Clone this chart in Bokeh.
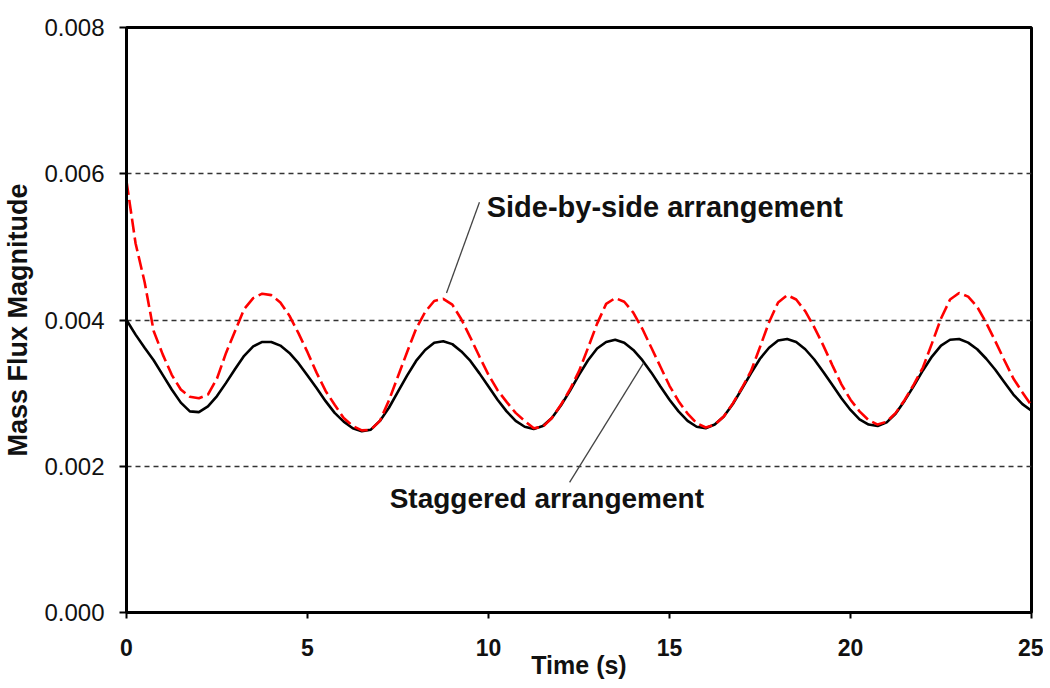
from bokeh.plotting import figure
from bokeh.models import Range1d, FixedTicker, PrintfTickFormatter, Label, ColumnDataSource
from bokeh.embed import file_html
from bokeh.resources import INLINE

# ---- data ----
time_s = [i * 0.25 for i in range(101)]

staggered = [
    0.00400, 0.00380, 0.00362, 0.00345, 0.00325, 0.00305, 0.00287, 0.00275,
    0.00274, 0.00282, 0.00296, 0.00314, 0.00333, 0.00351, 0.00364, 0.00370,
    0.00370, 0.00365, 0.00355, 0.00341, 0.00324, 0.00307, 0.00289, 0.00273,
    0.00261, 0.00252, 0.00248, 0.00250, 0.00262, 0.00280, 0.00302, 0.00324,
    0.00344, 0.00359, 0.00369, 0.00371, 0.00367, 0.00357, 0.00344, 0.00327,
    0.00309, 0.00291, 0.00275, 0.00262, 0.00254, 0.00251, 0.00255, 0.00266,
    0.00283, 0.00303, 0.00325, 0.00345, 0.00361, 0.00370, 0.00373, 0.00369,
    0.00359, 0.00345, 0.00328, 0.00309, 0.00291, 0.00275, 0.00262, 0.00254,
    0.00252, 0.00257, 0.00268, 0.00285, 0.00306, 0.00327, 0.00347, 0.00362,
    0.00372, 0.00374, 0.00370, 0.00360, 0.00346, 0.00329, 0.00311, 0.00293,
    0.00277, 0.00264, 0.00257, 0.00255, 0.00260, 0.00272, 0.00290, 0.00310,
    0.00331, 0.00350, 0.00365, 0.00373, 0.00374, 0.00369, 0.00360, 0.00347,
    0.00332, 0.00315, 0.00298, 0.00285, 0.00276,
]

side_by_side = [
    0.00590, 0.00505, 0.00452, 0.00385, 0.00353, 0.00325, 0.00305, 0.00295,
    0.00293, 0.00298, 0.00320, 0.00355, 0.00385, 0.00415, 0.00430, 0.00436,
    0.00434, 0.00424, 0.00406, 0.00382, 0.00356, 0.00328, 0.00303, 0.00284,
    0.00266, 0.00255, 0.00249, 0.00250, 0.00262, 0.00290, 0.00323, 0.00356,
    0.00388, 0.00411, 0.00426, 0.00429, 0.00421, 0.00401, 0.00376, 0.00350,
    0.00325, 0.00304, 0.00288, 0.00273, 0.00262, 0.00252, 0.00254, 0.00266,
    0.00284, 0.00305, 0.00330, 0.00362, 0.00395, 0.00422, 0.00430, 0.00425,
    0.00410, 0.00388, 0.00362, 0.00336, 0.00310, 0.00289, 0.00272, 0.00259,
    0.00253, 0.00257, 0.00268, 0.00286, 0.00307, 0.00330, 0.00363, 0.00397,
    0.00424, 0.00434, 0.00428, 0.00412, 0.00390, 0.00365, 0.00338, 0.00312,
    0.00291, 0.00275, 0.00263, 0.00257, 0.00261, 0.00273, 0.00291, 0.00312,
    0.00335, 0.00368, 0.00402, 0.00428, 0.00437, 0.00432, 0.00418, 0.00396,
    0.00371, 0.00345, 0.00320, 0.00301, 0.00283,
]

x_ticks = [0, 5, 10, 15, 20, 25]
y_ticks = [0.000, 0.002, 0.004, 0.006, 0.008]
grid_levels = [0.002, 0.004, 0.006]

series_names = ["Side-by-side arrangement", "Staggered arrangement"]
x_title = "Time (s)"
y_title = "Mass Flux Magnitude"

# annotation placement (data units)
side_label_pos = (9.95, 0.00555)
side_leader = (9.75, 0.00561, 8.84, 0.00437)
stag_label_pos = (7.27, 0.00156)
stag_leader = (12.24, 0.00178, 14.28, 0.00341)

FONT = "Liberation Sans"
TXT = "#111111"

p = figure(frame_width=905, frame_height=585,
           x_range=Range1d(0, 25), y_range=Range1d(0, 0.008),
           output_backend="svg", toolbar_location=None,
           min_border_left=120, min_border_right=12,
           min_border_top=27, min_border_bottom=68,
           background_fill_color="white", border_fill_color="white")

p.outline_line_color = "black"
p.outline_line_width = 3

# grid
p.xgrid.grid_line_color = None
p.ygrid.ticker = FixedTicker(ticks=grid_levels)
p.ygrid.grid_line_color = "#333333"
p.ygrid.grid_line_dash = "5 4"
p.ygrid.grid_line_width = 1.5

# axes
p.xaxis.ticker = FixedTicker(ticks=x_ticks)
p.yaxis.ticker = FixedTicker(ticks=y_ticks)
p.yaxis.formatter = PrintfTickFormatter(format="%.3f")
for ax in (p.xaxis[0], p.yaxis[0]):
    ax.axis_line_color = "black"
    ax.axis_line_width = 3
    ax.major_tick_line_color = "black"
    ax.major_tick_line_width = 2
    ax.major_tick_in = 0
    ax.minor_tick_line_color = None
    ax.major_label_text_font = FONT
    ax.major_label_text_color = TXT
    ax.axis_label_text_font = FONT
    ax.axis_label_text_font_style = "bold"
    ax.axis_label_text_color = TXT

p.xaxis.major_tick_out = 6
p.xaxis.major_label_standoff = 20
p.xaxis.major_label_text_font_size = "23px"
p.xaxis.major_label_text_font_style = "bold"
p.xaxis.axis_label = x_title
p.xaxis.axis_label_text_font_size = "25px"
p.xaxis.axis_label_standoff = -8

p.yaxis.major_tick_out = 7
p.yaxis.major_label_standoff = 15
p.yaxis.major_label_text_font_size = "24px"
p.yaxis.axis_label = y_title
p.yaxis.axis_label_text_font_size = "27px"
p.yaxis.axis_label_standoff = 8

src = ColumnDataSource(dict(t=time_s, stag=staggered, side=side_by_side))
p.line("t", "stag", source=src, line_color="black", line_width=2.6)
p.line("t", "side", source=src, line_color="#ff0000", line_width=2.6,
       line_dash="14 5")

# leader lines
p.segment(x0=[side_leader[0], stag_leader[0]], y0=[side_leader[1], stag_leader[1]],
          x1=[side_leader[2], stag_leader[2]], y1=[side_leader[3], stag_leader[3]],
          line_color="#444444", line_width=1.3)

p.add_layout(Label(x=side_label_pos[0], y=side_label_pos[1], text=series_names[0],
                   text_font=FONT, text_font_style="bold", text_font_size="29px",
                   text_color=TXT, text_align="left", text_baseline="middle"))
p.add_layout(Label(x=stag_label_pos[0], y=stag_label_pos[1], text=series_names[1],
                   text_font=FONT, text_font_style="bold", text_font_size="28px",
                   text_color=TXT, text_align="left", text_baseline="middle"))

open("out.html", "w").write(file_html(p, INLINE))
